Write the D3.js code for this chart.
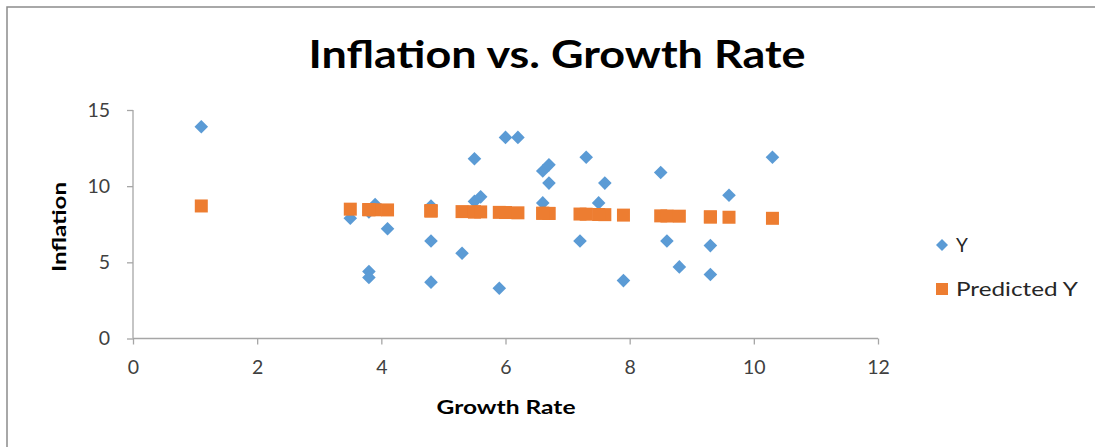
<!DOCTYPE html>
<html>
<head>
<meta charset="utf-8">
<script src="https://cdn.jsdelivr.net/npm/d3@7"></script>
<style>
  html, body { margin: 0; padding: 0; background: #fff; }
  svg { display: block; }
  text { font-family: Lato, "Open Sans", sans-serif; }
</style>
</head>
<body>
<svg id="chart" width="1095" height="447"></svg>
<script>
// Growth rate observations (x)
const growthRate = [1.1, 3.5, 3.8, 3.9, 3.8, 3.8, 4.1, 4.8, 4.8, 4.8, 5.3, 5.5, 5.5, 5.6, 5.9, 6.0, 6.2,
                    6.6, 6.7, 6.7, 6.6, 7.2, 7.3, 7.6, 7.5, 7.9, 8.5, 8.6, 8.8, 9.3, 9.3, 9.6, 10.3];
// Observed inflation (Y)
const inflation = [13.9, 7.9, 8.3, 8.8, 4.4, 4.0, 7.2, 8.7, 6.4, 3.7, 5.6, 11.8, 9.0, 9.3, 3.3, 13.2, 13.2,
                   11.0, 11.4, 10.2, 8.9, 6.4, 11.9, 10.2, 8.9, 3.8, 10.9, 6.4, 4.7, 6.1, 4.2, 9.4, 11.9];
// Fitted inflation (Predicted Y)
const predicted = [8.70, 8.49, 8.46, 8.45, 8.46, 8.46, 8.44, 8.38, 8.38, 8.38, 8.33, 8.31, 8.31, 8.31, 8.28, 8.27, 8.25,
                   8.22, 8.21, 8.21, 8.22, 8.17, 8.16, 8.13, 8.14, 8.10, 8.05, 8.04, 8.03, 7.98, 7.98, 7.96, 7.89];
const xTicks = [0, 2, 4, 6, 8, 10, 12];
const yTicks = [0, 5, 10, 15];
const seriesNames = ["Y", "Predicted Y"];

const blue = "#5B9BD5", orange = "#ED7D31", axisGray = "#a6a6a6", labelGray = "#404040";

const svg = d3.select("#chart");

// outer chart frame
svg.append("rect").attr("x", 7).attr("y", 7).attr("width", 1200).attr("height", 600)
  .attr("fill", "none").attr("stroke", "#8c8c8c").attr("stroke-width", 1.5);

const x = d3.scaleLinear().domain([0, 12]).range([133, 878]);
const y = d3.scaleLinear().domain([0, 15]).range([338.5, 110]);

// y axis
const yAxis = svg.append("g").attr("transform", `translate(${x(0)},0)`)
  .call(d3.axisLeft(y).tickValues(yTicks).tickSize(6).tickPadding(17).tickFormat(d3.format("d")));
// x axis
const xAxis = svg.append("g").attr("transform", `translate(0,${y(0)})`)
  .call(d3.axisBottom(x).tickValues(xTicks).tickSize(6).tickPadding(16).tickFormat(d3.format("d")));

[xAxis, yAxis].forEach(g => {
  g.select(".domain").attr("stroke", axisGray).attr("stroke-width", 1.3);
  g.selectAll(".tick line").attr("stroke", axisGray).attr("stroke-width", 1.3);
  g.selectAll(".tick text").attr("fill", labelGray).attr("font-size", 19.5)
    .attr("font-family", "Lato, 'Open Sans', sans-serif");
});
yAxis.select(".domain").attr("d", `M0,${y(15)}V${y(0)}`);
yAxis.selectAll(".tick line").attr("x2", -6);
xAxis.select(".domain").attr("d", `M${x(0)},0H${x(12)}`);

// observed points (diamonds)
const pts = growthRate.map((g, i) => ({ g, v: inflation[i], p: predicted[i] }));
const diamond = "M0,-6.8L6.8,0L0,6.8L-6.8,0Z";
svg.append("g").selectAll("path").data(pts).join("path")
  .attr("d", diamond)
  .attr("transform", d => `translate(${x(d.g)},${y(d.v)})`)
  .attr("fill", blue);

// predicted points (squares)
svg.append("g").selectAll("rect").data(pts).join("rect")
  .attr("x", d => x(d.g) - 6.5).attr("y", d => y(d.p) - 6.5)
  .attr("width", 13).attr("height", 13)
  .attr("fill", orange);

// title
svg.append("text").attr("x", 557).attr("y", 68).attr("text-anchor", "middle")
  .attr("font-size", 38).attr("font-weight", "bold").attr("fill", "#000")
  .attr("textLength", 497).attr("lengthAdjust", "spacingAndGlyphs")
  .text("Inflation vs. Growth Rate");

// axis titles
svg.append("text").attr("x", 506).attr("y", 414).attr("text-anchor", "middle")
  .attr("font-size", 18).attr("font-weight", "bold").attr("fill", "#000")
  .attr("textLength", 139).attr("lengthAdjust", "spacingAndGlyphs")
  .text("Growth Rate");
svg.append("text").attr("transform", "translate(66,227) rotate(-90)").attr("text-anchor", "middle")
  .attr("font-size", 18).attr("font-weight", "bold").attr("fill", "#000")
  .attr("textLength", 90).attr("lengthAdjust", "spacingAndGlyphs")
  .text("Inflation");

// legend
const legend = svg.append("g");
legend.append("path").attr("d", "M0,-6L6,0L0,6L-6,0Z")
  .attr("transform", "translate(942,245)").attr("fill", blue);
legend.append("rect").attr("x", 936).attr("y", 283).attr("width", 12).attr("height", 12).attr("fill", orange);
legend.append("text").attr("x", 956).attr("y", 252).attr("font-size", 19).attr("fill", "#262626").text(seriesNames[0]);
legend.append("text").attr("x", 956).attr("y", 296).attr("font-size", 19).attr("fill", "#262626")
  .attr("textLength", 122).attr("lengthAdjust", "spacingAndGlyphs").text(seriesNames[1]);
</script>
</body>
</html>
